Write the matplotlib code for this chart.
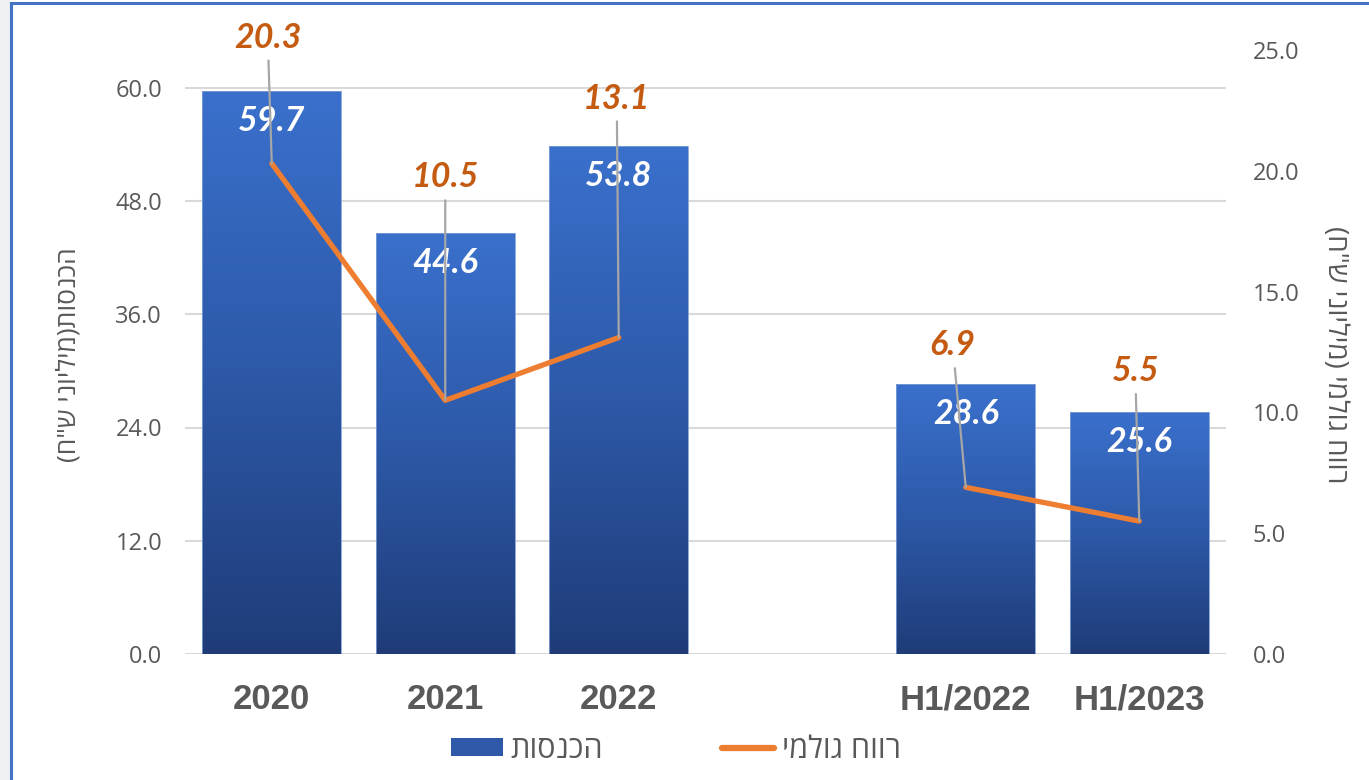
import numpy as np
import matplotlib
matplotlib.use("Agg")
import matplotlib.pyplot as plt
from matplotlib.colors import LinearSegmentedColormap
from matplotlib.patches import Rectangle
from matplotlib.lines import Line2D

# ---- data ----
categories = ["2020", "2021", "2022", "", "H1/2022", "H1/2023"]
revenue = [59.7, 44.6, 53.8, np.nan, 28.6, 25.6]        # הכנסות (מיליוני ש"ח)
gross_profit = [20.3, 10.5, 13.1, np.nan, 6.9, 5.5]     # רווח גולמי (מיליוני ש"ח)
left_ticks = [0, 12, 24, 36, 48, 60]
right_ticks = [0, 5, 10, 15, 20, 25]
label_revenue = "הכנסות"
label_gross = "רווח גולמי"
ylabel_left = 'הכנסות(מיליוני ש"ח)'
ylabel_right = 'רווח גולמי (מיליוני ש"ח)'
# label offsets (pixels) for gross-profit data labels
gp_label_offsets = [(-4, 126), (0, 223), (-2, 239), None, (-13, 142), (-4, 150)]


def visual(s):
    """Convert logical-order Hebrew text to visual order for LTR rendering."""
    mirror = {"(": ")", ")": "("}
    return "".join(mirror.get(c, c) for c in reversed(s))


FONT = ["Open Sans", "DejaVu Sans"]
plt.rcParams["font.family"] = FONT

W, H = 1369, 780
fig = plt.figure(figsize=(W / 100, H / 100), dpi=100)
fig.patch.set_facecolor("white")

# decorative frame: light gray strip at left, blue border
fig.add_artist(Rectangle((0, 0), 10 / W, 1, transform=fig.transFigure,
                         facecolor="#EEF0F3", edgecolor="none", zorder=0))
fig.add_artist(Line2D([11 / W, 11 / W], [0, 1 - 3 / H], transform=fig.transFigure,
                      color="#4472C4", lw=2.2, zorder=5))
fig.add_artist(Line2D([11 / W, 1], [1 - 3 / H, 1 - 3 / H], transform=fig.transFigure,
                      color="#4472C4", lw=2.2, zorder=5))

ax_l, ax_r = 185 / W, 1226 / W
ax_b, ax_t = 1 - 654 / H, 1 - 50 / H
ax = fig.add_axes([ax_l, ax_b, ax_r - ax_l, ax_t - ax_b])
ax2 = ax.twinx()

x = np.arange(len(categories))

# ---- bars with vertical gradient ----
cmap = LinearSegmentedColormap.from_list("barblue", ["#1F3C78", "#2D59A8", "#3A70CC"])
bars = ax.bar(x, revenue, width=0.8, color="none", edgecolor="#7F9FD6",
              linewidth=0.6, zorder=3)
grad = np.linspace(0, 1, 256).reshape(-1, 1)
for b in bars:
    h = b.get_height()
    if not np.isfinite(h):
        continue
    im = ax.imshow(grad, cmap=cmap, origin="lower", aspect="auto",
                   extent=[b.get_x(), b.get_x() + b.get_width(), 0, h], zorder=2.5)
    im.set_clip_path(b)

ax.set_xlim(-0.5, len(categories) - 0.5)
ax.set_ylim(0, 64.0)
ax.set_yticks(left_ticks)
ax.set_yticklabels([f"{v:.1f}" for v in left_ticks])
ax.yaxis.grid(True, color="#D9D9D9", lw=1.5, zorder=0)
ax.set_axisbelow(True)
ax.set_xticks(x)
ax.set_xticklabels(categories, fontsize=25, fontweight="bold", color="#595959",
                   family=["Liberation Sans", "DejaVu Sans"])
ax.tick_params(axis="x", length=0, pad=21)
ax.tick_params(axis="y", length=0, pad=16.5, labelsize=17, labelcolor="#595959")
for s in ax.spines.values():
    s.set_visible(False)

# bar data labels
for b, v in zip(bars, revenue):
    if not np.isfinite(v):
        continue
    ax.annotate(f"{v:.1f}", xy=(b.get_x() + b.get_width() / 2, v), xytext=(0, -30),
                textcoords="offset pixels", ha="center", va="center",
                fontsize=24.5, fontweight="bold", fontstyle="italic", color="white",
                family="Lato", zorder=6)

# ---- line ----
line, = ax2.plot(x, gross_profit, color="#ED7D31", lw=3.8, solid_capstyle="round",
                 zorder=4)
ax2.set_ylim(0, 25)
ax2.set_yticks(right_ticks)
ax2.set_yticklabels([f"{v:.1f}" for v in right_ticks])
ax2.tick_params(axis="y", length=0, pad=19, labelsize=17, labelcolor="#595959")
for s in ax2.spines.values():
    s.set_visible(False)

for xi, v, off in zip(x, gross_profit, gp_label_offsets):
    if off is None or not np.isfinite(v):
        continue
    ax2.annotate(f"{v:.1f}", xy=(xi, v), xytext=off, textcoords="offset pixels",
                 ha="center", va="center", fontsize=24.5, fontweight="bold",
                 fontstyle="italic", color="#C55A11", family="Lato",
                 annotation_clip=False, zorder=7,
                 arrowprops=dict(arrowstyle="-", color="#A6A6A6", lw=1.6,
                                 shrinkA=3, shrinkB=0))

# axis titles
fig.text(69 / W, 1 - 355 / H, visual(ylabel_left), rotation=90, ha="center",
         va="center", fontsize=19, color="#595959")
fig.text(1335 / W, 1 - 355 / H, visual(ylabel_right), rotation=-90, ha="center",
         va="center", fontsize=20, color="#595959")

# legend
h_bar = Rectangle((0, 0), 1, 1, facecolor="#2D59A8", edgecolor="none")
h_line = Line2D([0], [0], color="#ED7D31", lw=4.5, solid_capstyle="round")
fig.legend([h_bar, h_line], [visual(label_revenue), visual(label_gross)],
           loc="center", bbox_to_anchor=(676 / W, 1 - 750 / H), ncol=2,
           frameon=False, fontsize=22, labelcolor="#595959", handlelength=1.7,
           handletextpad=0.25, columnspacing=3.9, handleheight=0.55)

fig.savefig("out.png", dpi=100, facecolor="white")
